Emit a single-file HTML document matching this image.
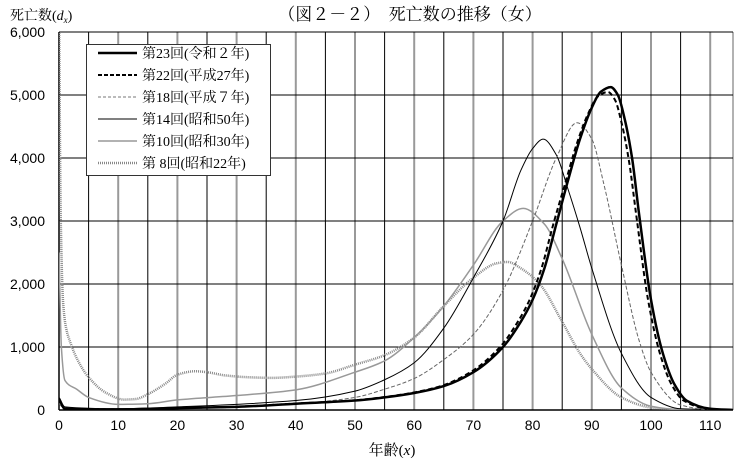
<!DOCTYPE html>
<html><head><meta charset="utf-8"><style>
html,body{margin:0;padding:0;background:#fff;}
svg{display:block;font-family:"Liberation Sans","Noto Sans CJK JP",sans-serif;}
</style></head><body>
<svg id="s" width="743" height="464" viewBox="0 0 743 464" xmlns="http://www.w3.org/2000/svg">
<defs><clipPath id="c"><rect x="59" y="32" width="674" height="378"/></clipPath></defs>
<rect width="743" height="464" fill="#fff"/>
<text x="410" y="20" font-size="17" text-anchor="middle" font-family="'Liberation Serif','Noto Serif CJK SC',serif">（図２－２）　死亡数の推移（女）</text>
<text x="10" y="20" font-size="14" font-family="'Liberation Serif','Noto Serif CJK SC',serif">死亡数(<tspan font-style="italic">d</tspan><tspan font-style="italic" font-size="9" dy="3">x</tspan><tspan dy="-3">)</tspan></text>
<g id="grid"></g>
<g id="curves" clip-path="url(#c)"></g>
<g id="labels" font-size="14" fill="#000"></g>
<text x="392" y="455" font-size="15" text-anchor="middle" font-family="'Liberation Serif','Noto Serif CJK SC',serif">年齢(<tspan font-style="italic">x</tspan>)</text>
<g>
<rect x="86.5" y="44.5" width="184" height="131" fill="#fff" stroke="#333" stroke-width="1"/>
<g font-size="14" font-family="'Liberation Serif','Noto Serif CJK SC',serif">
<line x1="98" y1="53" x2="137" y2="53" stroke="#000" stroke-width="2.5"/><text x="142" y="58">第23回(令和２年)</text>
<line x1="98" y1="75" x2="137" y2="75" stroke="#000" stroke-width="2" stroke-dasharray="4 2"/><text x="142" y="80">第22回(平成27年)</text>
<line x1="98" y1="97" x2="137" y2="97" stroke="#777" stroke-width="1" stroke-dasharray="3 2"/><text x="142" y="102">第18回(平成７年)</text>
<line x1="98" y1="119" x2="137" y2="119" stroke="#000" stroke-width="1"/><text x="142" y="124">第14回(昭和50年)</text>
<line x1="98" y1="141" x2="137" y2="141" stroke="#999" stroke-width="1.5"/><text x="142" y="146">第10回(昭和30年)</text>
<line x1="98" y1="163" x2="137" y2="163" stroke="#888" stroke-width="2.5" stroke-dasharray="1 1"/><text x="142" y="168">第 8回(昭和22年)</text>
</g></g>
</svg>
<script>
var NS="http://www.w3.org/2000/svg",x0=59,sx=5.92,y0=410,sy=0.063;
function X(a){return x0+a*sx}function Y(v){return y0-v*sy}
function el(t,a,p){var e=document.createElementNS(NS,t);for(var k in a)e.setAttribute(k,a[k]);p.appendChild(e);return e}
var g=document.getElementById('grid'),lb=document.getElementById('labels');
for(var a=5;a<=110;a+=5){var maj=a%10==0;el('line',{x1:X(a),x2:X(a),y1:32,y2:410,stroke:maj?'#999':'#000','stroke-width':maj?2:1},g);}
el('line',{x1:733,x2:733,y1:32,y2:410,stroke:'#999','stroke-width':1.5},g);
for(var v=1000;v<=6000;v+=1000){el('line',{x1:59,x2:733,y1:Y(v),y2:Y(v),stroke:'#000','stroke-width':1},g);}
el('line',{x1:59,x2:59,y1:32,y2:410,stroke:'#000','stroke-width':1.5},g);
el('line',{x1:59,x2:733,y1:410,y2:410,stroke:'#000','stroke-width':1.5},g);
for(var v=0;v<=6000;v+=1000){var t=el('text',{x:45,y:Y(v)+5,'text-anchor':'end'},lb);t.textContent=v==0?'0':(v/1000)+',000';}
for(var a=0;a<=110;a+=10){var t=el('text',{x:X(a),y:430,'text-anchor':'middle'},lb);t.textContent=a;}
function path(pts){
 var n=pts.length,xs=pts.map(function(q){return q[0]}),ys=pts.map(function(q){return q[1]});
 var d=[],m=[];for(var i=0;i<n-1;i++)d.push((ys[i+1]-ys[i])/(xs[i+1]-xs[i]));
 m[0]=d[0];m[n-1]=d[n-2];
 for(var i=1;i<n-1;i++){if(d[i-1]*d[i]<=0)m[i]=0;else{var w1=2*(xs[i+1]-xs[i])+(xs[i]-xs[i-1]),w2=(xs[i+1]-xs[i])+2*(xs[i]-xs[i-1]);m[i]=(w1+w2)/(w1/d[i-1]+w2/d[i]);}}
 var s='M'+X(xs[0]).toFixed(2)+','+Y(ys[0]).toFixed(2);
 for(var i=0;i<n-1;i++){var h=xs[i+1]-xs[i];
  s+='C'+X(xs[i]+h/3).toFixed(2)+','+Y(ys[i]+m[i]*h/3).toFixed(2)+' '+X(xs[i+1]-h/3).toFixed(2)+','+Y(ys[i+1]-m[i+1]*h/3).toFixed(2)+' '+X(xs[i+1]).toFixed(2)+','+Y(ys[i+1]).toFixed(2);}
 return s}
var cv=document.getElementById('curves');
function draw(pts,st){st.d=path(pts);st.fill='none';el('path',st,cv)}
var S22=[[0,6300],[0.3,3000],[0.7,1700],[1.2,1300],[2,1050],[3,820],[5,520],[8,270],[11,165],[13,175],[15,250],[18,420],[20,560],[23,615],[25,600],[28,550],[32,520],[36,510],[40,530],[45,580],[50,720],[55,870],[60,1150],[65,1650],[70,2100],[74,2330],[75.8,2350],[78,2250],[81.2,2000],[85,1400],[88,900],[90,650],[95,200],[100,40],[105,5],[114,0]];
var S30=[[0,2500],[0.4,1000],[1,470],[3,330],[5,200],[10,90],[15,100],[20,160],[30,230],[40,320],[50,600],[55,780],[60,1150],[65,1650],[70,2300],[75,3000],[78.4,3200],[82,2950],[85,2400],[90,1200],[95,350],[100,60],[105,5],[114,0]];
var S50=[[0,200],[1,50],[10,20],[20,50],[40,150],[50,300],[55,480],[60,750],[65,1300],[70,2100],[75,3000],[78,3800],[80,4150],[81.8,4300],[84,4050],[86,3500],[88,2900],[90,2250],[95,900],[100,200],[105,20],[114,0]];
var H7=[[0,100],[1,20],[20,30],[40,100],[50,200],[55,330],[60,500],[65,800],[70,1200],[75,1900],[80,3000],[84,4000],[87.5,4560],[90,4300],[92,3600],[95,2300],[98,1100],[100,600],[105,80],[110,5],[114,0]];
var R2=[[0,180],[1,20],[10,10],[20,30],[30,50],[40,100],[50,150],[55,200],[60,270],[65,380],[70,600],[75,1000],[78,1400],[80,1750],[82,2250],[84,2950],[86,3650],[88,4300],[90,4800],[91.5,5050],[93.2,5125],[94.4,5000],[95.6,4600],[96.8,4000],[98,3100],[100,1750],[102,900],[104,400],[106,150],[110,20],[114,0]];
var R27=R2.map(function(q){return[q[0]<2?q[0]:q[0]-0.5,q[1]*(q[0]>85&&q[0]<97?0.985:1)]});
draw(S22,{stroke:'#888','stroke-width':2.5,'stroke-dasharray':'1 1'});
draw(S30,{stroke:'#999','stroke-width':1.5});
draw(S50,{stroke:'#000','stroke-width':1});
draw(H7,{stroke:'#666','stroke-width':1,'stroke-dasharray':'4 2'});
draw(R27,{stroke:'#000','stroke-width':2,'stroke-dasharray':'5 3'});
draw(R2,{stroke:'#000','stroke-width':2.5});
</script>
</body></html>
